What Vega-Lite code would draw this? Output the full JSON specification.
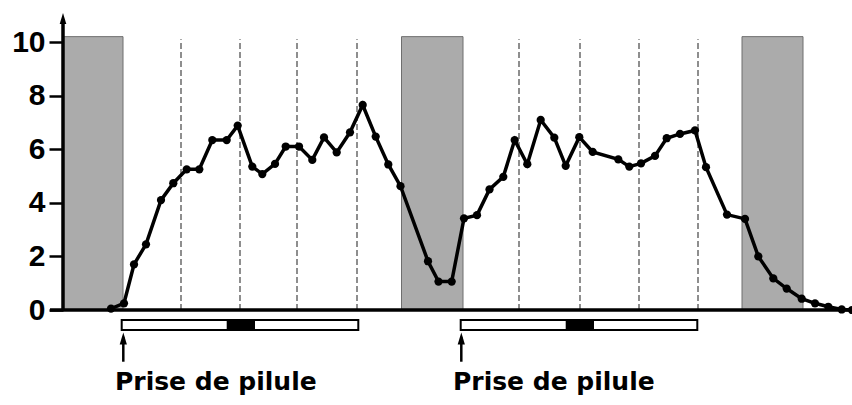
{
  "$schema": "https://vega.github.io/schema/vega-lite/v6.json",
  "width": 789,
  "height": 268,
  "autosize": {"type": "none"},
  "padding": {"left": 63, "top": 42, "right": 0, "bottom": 95},
  "background": "white",
  "config": {"view": {"stroke": null}},
  "datasets": {
    "bands": [
      {"t": 0, "t2": 60, "v": 0, "v2": 10.2},
      {"t": 338.5, "t2": 400, "v": 0, "v2": 10.2},
      {"t": 679, "t2": 740, "v": 0, "v2": 10.2}
    ],
    "grid": [
      {"t": 118}, {"t": 177}, {"t": 234}, {"t": 294},
      {"t": 456}, {"t": 517}, {"t": 576}, {"t": 635}
    ],
    "series": [
      {"t": 48, "v": 0.05}, {"t": 61, "v": 0.25}, {"t": 71, "v": 1.7}, {"t": 83, "v": 2.45},
      {"t": 98, "v": 4.1}, {"t": 110.3, "v": 4.73}, {"t": 123.7, "v": 5.25}, {"t": 136.3, "v": 5.25},
      {"t": 149.3, "v": 6.34}, {"t": 163.7, "v": 6.34}, {"t": 174.7, "v": 6.88}, {"t": 189.3, "v": 5.35},
      {"t": 199.3, "v": 5.07}, {"t": 212, "v": 5.45}, {"t": 222.7, "v": 6.1}, {"t": 236, "v": 6.1},
      {"t": 249.3, "v": 5.6}, {"t": 261, "v": 6.44}, {"t": 273.7, "v": 5.88}, {"t": 287, "v": 6.63},
      {"t": 299.7, "v": 7.65}, {"t": 312.7, "v": 6.47}, {"t": 325.3, "v": 5.43}, {"t": 337.5, "v": 4.62},
      {"t": 365, "v": 1.82}, {"t": 375.5, "v": 1.06}, {"t": 388.7, "v": 1.06}, {"t": 401, "v": 3.42},
      {"t": 414, "v": 3.54}, {"t": 426.5, "v": 4.5}, {"t": 440.3, "v": 4.97}, {"t": 451.7, "v": 6.34},
      {"t": 464.3, "v": 5.44}, {"t": 477.7, "v": 7.09}, {"t": 491.3, "v": 6.43}, {"t": 502.7, "v": 5.38},
      {"t": 516.3, "v": 6.45}, {"t": 529.7, "v": 5.9}, {"t": 555.3, "v": 5.62}, {"t": 566.3, "v": 5.35},
      {"t": 578, "v": 5.47}, {"t": 592, "v": 5.75}, {"t": 603.7, "v": 6.41}, {"t": 617, "v": 6.57},
      {"t": 632, "v": 6.7}, {"t": 643, "v": 5.33}, {"t": 664, "v": 3.56}, {"t": 682, "v": 3.4},
      {"t": 695.3, "v": 2.0}, {"t": 710.3, "v": 1.18}, {"t": 723.7, "v": 0.8}, {"t": 738.7, "v": 0.42},
      {"t": 752, "v": 0.25}, {"t": 765.3, "v": 0.12}, {"t": 778.7, "v": 0.02}, {"t": 789, "v": 0}
    ],
    "xaxis": [{"t": -13, "t2": 789, "v": 0}],
    "yaxis": [{"t": 0, "v": 0, "v2": 10.75}],
    "yarrow": [{"t": 0, "v": 10.88}],
    "pills": [
      {"t": 58.7, "t2": 295.3, "v": -0.37, "v2": -0.75},
      {"t": 397.7, "t2": 634.3, "v": -0.37, "v2": -0.75}
    ],
    "pillblack": [
      {"t": 163.7, "t2": 192, "v": -0.37, "v2": -0.75},
      {"t": 502.7, "t2": 531, "v": -0.37, "v2": -0.75}
    ],
    "arrows": [
      {"t": 60.3, "v": -1.0, "v2": -1.93},
      {"t": 398.3, "v": -1.0, "v2": -1.93}
    ],
    "arrowheads": [
      {"t": 60.3, "v": -1.06},
      {"t": 398.3, "v": -1.06}
    ],
    "labels": [
      {"t": 52, "v": -2.99, "label": "Prise de pilule"},
      {"t": 390, "v": -2.99, "label": "Prise de pilule"}
    ]
  },
  "layer": [
    {
      "data": {"name": "bands"},
      "mark": {"type": "rect", "fill": "#ababab", "stroke": "#6e6e6e", "strokeWidth": 1},
      "encoding": {
        "x": {"field": "t", "type": "quantitative", "scale": {"domain": [0, 789], "nice": false, "zero": false}, "axis": null},
        "x2": {"field": "t2"},
        "y": {"field": "v", "type": "quantitative", "scale": {"domain": [0, 10], "nice": false, "zero": false},
          "axis": {
            "values": [0, 1, 2, 3, 4, 5, 6, 7, 8, 9, 10],
            "labelExpr": "datum.value % 2 === 0 ? datum.label : ''",
            "domain": false, "grid": false, "title": null,
            "ticks": true, "tickSize": 14, "tickWidth": 2.5, "tickColor": "black",
            "labelFont": "Liberation Sans", "labelFontWeight": "bold", "labelFontSize": 30,
            "labelColor": "black", "labelPadding": 4
          }},
        "y2": {"field": "v2"}
      }
    },
    {
      "data": {"name": "grid"},
      "mark": {"type": "rule", "stroke": "#444444", "strokeWidth": 1.2, "strokeDash": [6, 3]},
      "encoding": {
        "x": {"field": "t", "type": "quantitative"},
        "y": {"datum": 0, "type": "quantitative"},
        "y2": {"datum": 10.1}
      }
    },
    {
      "data": {"name": "xaxis"},
      "mark": {"type": "rule", "stroke": "black", "strokeWidth": 3.5},
      "encoding": {
        "x": {"field": "t", "type": "quantitative"},
        "x2": {"field": "t2"},
        "y": {"field": "v", "type": "quantitative"}
      }
    },
    {
      "data": {"name": "yaxis"},
      "mark": {"type": "rule", "stroke": "black", "strokeWidth": 3.5},
      "encoding": {
        "x": {"field": "t", "type": "quantitative"},
        "y": {"field": "v", "type": "quantitative"},
        "y2": {"field": "v2"}
      }
    },
    {
      "data": {"name": "yarrow"},
      "mark": {"type": "point", "shape": "M0,-1L0.6,1L-0.6,1Z", "filled": true, "color": "black", "size": 121, "opacity": 1},
      "encoding": {
        "x": {"field": "t", "type": "quantitative"},
        "y": {"field": "v", "type": "quantitative"}
      }
    },
    {
      "data": {"name": "series"},
      "mark": {"type": "line", "color": "black", "strokeWidth": 3.5, "point": {"filled": true, "color": "black", "size": 68, "opacity": 1}},
      "encoding": {
        "x": {"field": "t", "type": "quantitative"},
        "y": {"field": "v", "type": "quantitative"}
      }
    },
    {
      "data": {"name": "pills"},
      "mark": {"type": "rect", "fill": "white", "stroke": "black", "strokeWidth": 2},
      "encoding": {
        "x": {"field": "t", "type": "quantitative"},
        "x2": {"field": "t2"},
        "y": {"field": "v", "type": "quantitative"},
        "y2": {"field": "v2"}
      }
    },
    {
      "data": {"name": "pillblack"},
      "mark": {"type": "rect", "fill": "black"},
      "encoding": {
        "x": {"field": "t", "type": "quantitative"},
        "x2": {"field": "t2"},
        "y": {"field": "v", "type": "quantitative"},
        "y2": {"field": "v2"}
      }
    },
    {
      "data": {"name": "arrows"},
      "mark": {"type": "rule", "stroke": "black", "strokeWidth": 2.5},
      "encoding": {
        "x": {"field": "t", "type": "quantitative"},
        "y": {"field": "v", "type": "quantitative"},
        "y2": {"field": "v2"}
      }
    },
    {
      "data": {"name": "arrowheads"},
      "mark": {"type": "point", "shape": "M0,-1L0.6,1L-0.6,1Z", "filled": true, "color": "black", "size": 144, "opacity": 1},
      "encoding": {
        "x": {"field": "t", "type": "quantitative"},
        "y": {"field": "v", "type": "quantitative"}
      }
    },
    {
      "data": {"name": "labels"},
      "mark": {"type": "text", "align": "left", "baseline": "alphabetic", "font": "DejaVu Sans", "fontWeight": "bold", "fontSize": 25, "color": "black"},
      "encoding": {
        "x": {"field": "t", "type": "quantitative"},
        "y": {"field": "v", "type": "quantitative"},
        "text": {"field": "label"}
      }
    }
  ]
}
